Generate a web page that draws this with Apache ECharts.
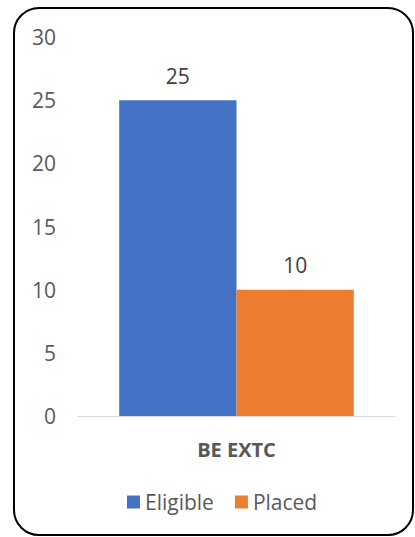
<!DOCTYPE html>
<html>
<head>
<meta charset="utf-8">
<script src="https://cdn.jsdelivr.net/npm/echarts@6/dist/echarts.min.js"></script>
<style>
html,body{margin:0;padding:0;background:#fff;}
#frame{position:absolute;left:13px;top:7px;width:397px;height:525px;border:2.5px solid #000;border-radius:26px;box-sizing:content-box;}
#chart{position:absolute;left:0;top:0;width:415px;height:537px;}
</style>
</head>
<body>
<div id="frame"></div>
<div id="chart"></div>
<script>
const categories = ['BE EXTC'];
const seriesNames = ['Eligible', 'Placed'];
const eligible = [25];
const placed = [10];
const yTicks = {min: 0, max: 30, interval: 5};

const font = '"Open Sans", sans-serif';
const chart = echarts.init(document.getElementById('chart'), null, {renderer: 'svg'});
chart.setOption({
  backgroundColor: 'transparent',
  animation: false,
  grid: {left: 78, right: 20, top: 37, bottom: 121, containLabel: false},
  legend: {
    data: seriesNames,
    top: 491,
    left: 127,
    padding: 0,
    itemWidth: 13,
    itemHeight: 13,
    itemGap: 21,
    icon: 'rect',
    textStyle: {color: '#595959', fontSize: 21, lineHeight: 22, fontFamily: font}
  },
  xAxis: {
    type: 'category',
    data: categories,
    axisLine: {lineStyle: {color: '#d9d9d9', width: 1}},
    axisTick: {show: false},
    axisLabel: {color: '#595959', fontSize: 20, fontWeight: 'bold', fontFamily: font, margin: 23}
  },
  yAxis: {
    type: 'value',
    min: yTicks.min, max: yTicks.max, interval: yTicks.interval,
    splitLine: {show: false},
    axisLine: {show: false},
    axisTick: {show: false},
    axisLabel: {color: '#595959', fontSize: 21, fontFamily: font, margin: 22}
  },
  series: [
    {
      name: seriesNames[0], type: 'bar', data: eligible,
      barGap: '0%', barCategoryGap: '26%',
      itemStyle: {color: '#4472C4'},
      label: {show: true, position: 'top', distance: 14, color: '#404040', fontSize: 21, fontFamily: font}
    },
    {
      name: seriesNames[1], type: 'bar', data: placed,
      itemStyle: {color: '#ED7D31'},
      label: {show: true, position: 'top', distance: 14, color: '#404040', fontSize: 21, fontFamily: font}
    }
  ]
});
</script>
</body>
</html>
